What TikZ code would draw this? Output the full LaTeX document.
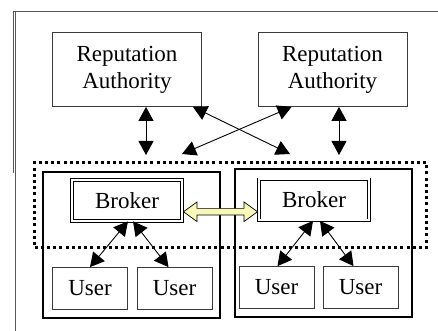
\documentclass[tikz,border=0pt]{standalone}
\usepackage{fontspec}
\setmainfont{Liberation Serif}
\usetikzlibrary{arrows.meta,positioning,calc,shapes.arrows}
\definecolor{LinkFill}{HTML}{F8F8B8}
\definecolor{BoxLine}{HTML}{3A3A3A}
\tikzset{>={Triangle[length=14pt,width=15pt]},every node/.style={font=\fontsize{23}{27}\selectfont},
 authbox/.style={draw=BoxLine,line width=0.8pt,minimum width=149pt,minimum height=74pt,align=center,inner sep=0pt},
 brokerbox/.style={draw=black,double,double distance=2pt,line width=0.8pt,minimum width=110pt,minimum height=41pt},
 userbox/.style={draw=BoxLine,line width=0.8pt,minimum width=75pt,minimum height=42pt},
 domainbox/.style={draw=black,line width=2pt,minimum width=177pt,minimum height=146pt},
 groupbox/.style={draw=black,line width=3pt,dash pattern=on 3pt off 3.2pt,minimum width=392pt,minimum height=85pt},
 link/.style={double arrow,draw=black,fill=LinkFill,line width=0.7pt,minimum height=74pt,minimum width=0pt,
 inner xsep=0pt,inner ysep=3pt,double arrow head extend=6.5pt,double arrow tip angle=72},
 wire/.style={line width=0.9pt,<->}}
\begin{document}
\begin{tikzpicture}[x=1pt,y=1pt]
\useasboundingbox (0,0) rectangle (438,331);
% page frame
\draw[black!65,line width=0.7pt] (438,320) -- (13,320) -- (13,158);
\draw[black!65,line width=0.7pt] (15,320) -- (15,0);
% authorities
\node[authbox] (ra1) at (127,261.5) {Reputation\\Authority};
\node[authbox] (ra2) at (332.5,261.5) {Reputation\\Authority};
% two domains and the broker group
\node[domainbox] (dom1) at (131.5,86) {};
\node[domainbox,minimum height=148pt] (dom2) at (323.5,88) {};
\node[groupbox] (grp) at (230.5,126) {};
\node[brokerbox] (b1) at (127,130.5) {Broker};
\node[brokerbox] (b2) at (314,131) {Broker};
\node[userbox] (u1) at (90,42.5) {User};\node[userbox] (u2) at (174.5,42.5) {User};
\node[userbox] (u3) at (276.5,43.5) {User};\node[userbox] (u4) at (360.5,43.5) {User};
% landing points above the group
\coordinate (g1) at (146,176);\coordinate (g2) at (182,177);
\coordinate (g3) at (290,177);\coordinate (g4) at (339,176);
\draw[wire] ([xshift=19]ra1.south) -- (g1);
\draw[wire] ([xshift=6.5]ra2.south) -- (g4);
\draw[wire] ([xshift=-9]ra1.south east) -- (g3);
\draw[wire] ([xshift=34]ra2.south west) -- (g2);
% broker to users
\draw[wire] ([xshift=1]b1.south) -- (u1.north);
\draw[wire] ([xshift=6]b1.south) -- ([xshift=-6]u2.north);
\draw[wire] ([xshift=-1]b2.south) -- ([xshift=1]u3.north);
\draw[wire] ([xshift=6]b2.south) -- ([xshift=-7]u4.north);
% broker link
\node[link] (bl) at ($(b1.east)!0.5!(b2.west)+(0,-11.5)$) {};
\end{tikzpicture}
\end{document}
